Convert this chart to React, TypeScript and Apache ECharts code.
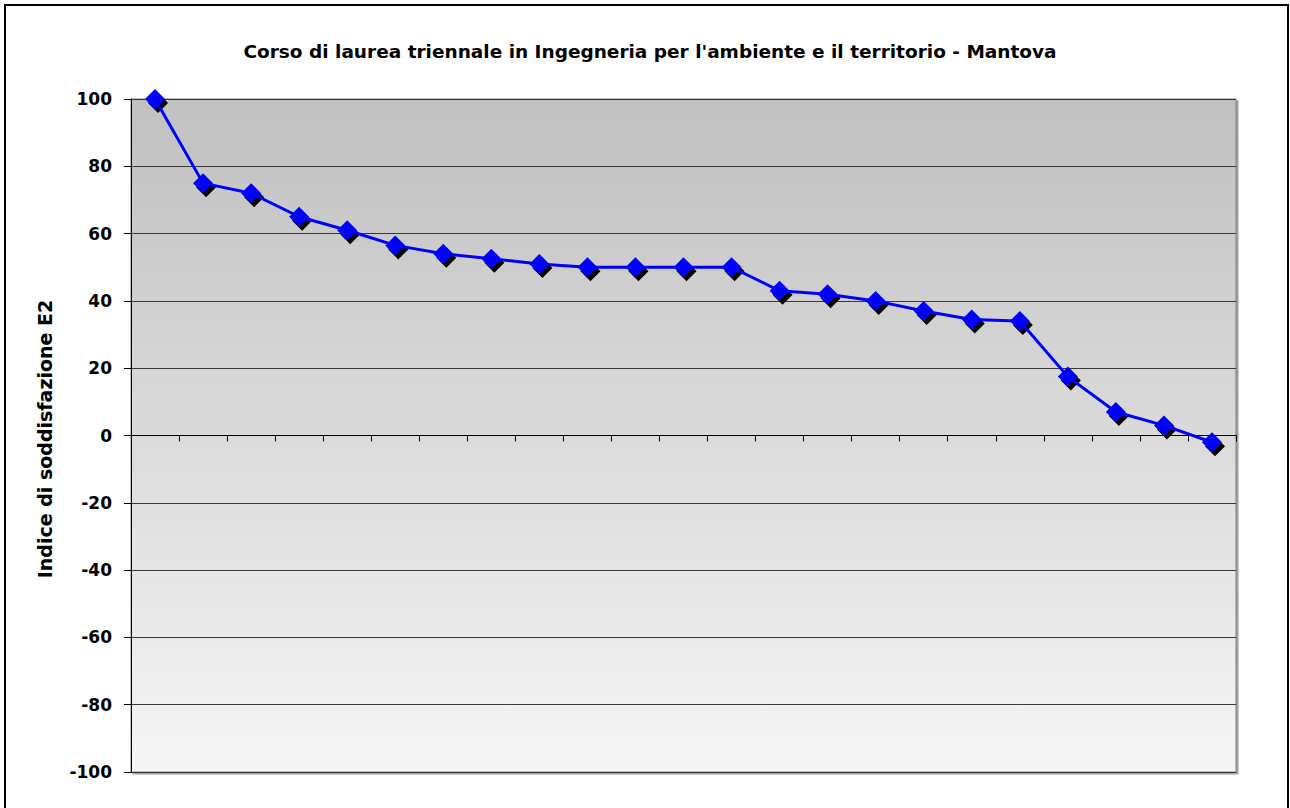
import React, { useEffect, useRef } from "react";
import * as echarts from "echarts";

const titleText = "Corso di laurea triennale in Ingegneria per l'ambiente e il territorio - Mantova";
const yAxisTitle = "Indice di soddisfazione E2";
const categories = [
  "1", "2", "3", "4", "5", "6", "7", "8", "9", "10", "11", "12",
  "13", "14", "15", "16", "17", "18", "19", "20", "21", "22", "23",
];
const values = [
  100, 75, 72, 65, 61, 56.5, 54, 52.5, 51, 50, 50, 50, 50, 43, 42, 40, 37, 34.5, 34, 17.5, 7, 3, -2,
];
const yMin = -100;
const yMax = 100;
const yStep = 20;

const FONT = "'DejaVu Sans', Verdana, sans-serif";

export default function App() {
  const ref = useRef<HTMLDivElement>(null);
  useEffect(() => {
    if (!ref.current) return;
    const chart = echarts.init(ref.current, null, { renderer: "svg" });
    chart.setOption({
      animation: false,
      backgroundColor: "#ffffff",
      title: {
        text: titleText,
        left: 645,
        top: 37,
        textAlign: "center",
        textStyle: { fontFamily: FONT, fontWeight: "bold", fontSize: 18.5, color: "#000" },
      },
      graphic: [
        {
          type: "rect",
          shape: { x: 5, y: 5, width: 1283, height: 830 },
          style: { fill: "none", stroke: "#000", lineWidth: 2 },
          silent: true,
        },
        {
          type: "text",
          x: 45,
          y: 439,
          rotation: Math.PI / 2,
          style: {
            text: yAxisTitle,
            fontFamily: FONT,
            fontWeight: "bold",
            fontSize: 19,
            fill: "#000",
            align: "center",
            verticalAlign: "middle",
          },
        },
      ],
      grid: {
        left: 131,
        top: 99,
        width: 1105,
        height: 673,
        show: true,
        borderColor: "#808080",
        borderWidth: 1,
        shadowColor: "#a0a0a0",
        shadowOffsetX: 2,
        shadowOffsetY: 2,
        shadowBlur: 0,
        backgroundColor: {
          type: "linear",
          x: 0,
          y: 0,
          x2: 0,
          y2: 1,
          colorStops: [
            { offset: 0, color: "#c0c0c0" },
            { offset: 1, color: "#f5f5f5" },
          ],
        },
      },
      xAxis: {
        type: "category",
        data: categories,
        boundaryGap: true,
        axisLine: { show: true, onZero: true, lineStyle: { color: "#000", width: 1 } },
        axisTick: { show: true, length: 6, lineStyle: { color: "#000" } },
        axisLabel: { show: false },
        splitLine: { show: false },
      },
      yAxis: {
        type: "value",
        min: yMin,
        max: yMax,
        interval: yStep,
        axisLine: { show: true, lineStyle: { color: "#000", width: 1 } },
        axisTick: { show: true, length: 7, lineStyle: { color: "#000" } },
        axisLabel: {
          margin: 19,
          fontFamily: FONT,
          fontWeight: "bold",
          fontSize: 17,
          color: "#000",
        },
        splitLine: { show: true, lineStyle: { color: "#383838", width: 1 } },
      },
      series: [
        {
          type: "line",
          data: values,
          symbol: "diamond",
          symbolSize: 20,
          symbolOffset: [3, 4],
          lineStyle: { width: 0, opacity: 0 },
          itemStyle: { color: "#000" },
          z: 2,
          silent: true,
        },
        {
          type: "line",
          data: values,
          symbol: "diamond",
          symbolSize: 20,
          showAllSymbol: true,
          lineStyle: { color: "#0000ff", width: 3 },
          itemStyle: { color: "#0000ff", borderWidth: 0 },
          z: 3,
        },
      ],
    });
    return () => chart.dispose();
  }, []);
  return (
    <div
      ref={ref}
      style={{ position: "absolute", left: 0, top: 0, width: 1290, height: 808 }}
    />
  );
}
